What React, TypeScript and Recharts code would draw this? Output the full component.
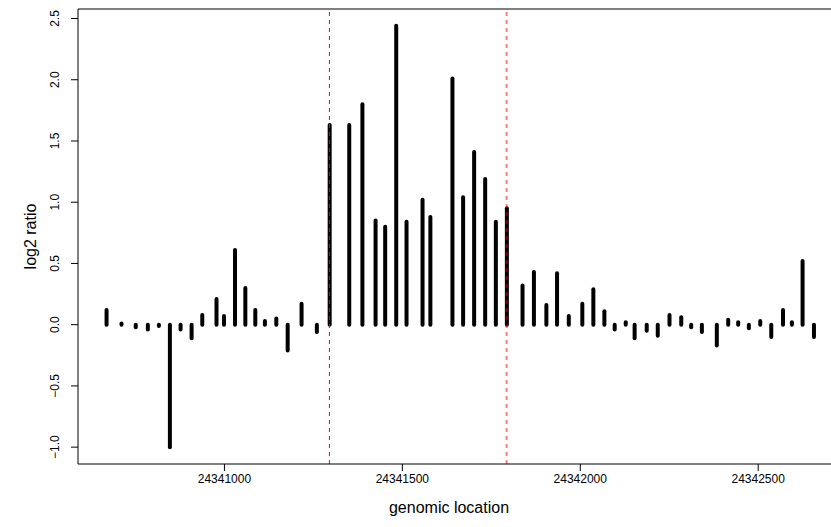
import React from 'react';
import { ComposedChart, Bar, XAxis, YAxis, ReferenceLine, Label } from 'recharts';

// probe positions (bp) and their log2 ratios
const positions = [
  24340668, 24340710, 24340750, 24340784, 24340815, 24340846, 24340876, 24340907,
  24340937, 24340977, 24340998, 24341029, 24341058, 24341086, 24341113, 24341145,
  24341177, 24341216, 24341259, 24341295, 24341350, 24341387, 24341424, 24341451,
  24341482, 24341511, 24341556, 24341578, 24341640, 24341670, 24341701, 24341732,
  24341762, 24341793, 24341837, 24341869, 24341904, 24341934, 24341967, 24342005,
  24342036, 24342067, 24342096, 24342127, 24342152, 24342186, 24342217, 24342250,
  24342283, 24342311, 24342341, 24342383, 24342415, 24342443, 24342473, 24342505,
  24342536, 24342569, 24342594, 24342624, 24342656,
];
const log2Ratios = [
  0.12, 0.01, -0.02, -0.04, -0.01, -1.0, -0.04, -0.11,
  0.08, 0.21, 0.07, 0.61, 0.3, 0.12, 0.03, 0.05,
  -0.21, 0.17, -0.06, 1.63, 1.63, 1.8, 0.85, 0.8,
  2.44, 0.84, 1.02, 0.88, 2.01, 1.04, 1.41, 1.19,
  0.84, 0.95, 0.32, 0.43, 0.16, 0.42, 0.07, 0.17,
  0.29, 0.11, -0.04, 0.02, -0.11, -0.05, -0.09, 0.08,
  0.06, -0.02, -0.06, -0.17, 0.04, 0.02, -0.03, 0.03,
  -0.1, 0.12, 0.02, 0.52, -0.1,
];
const xTicks = [24341000, 24341500, 24342000, 24342500];
const yTicks = [-1, -0.5, 0, 0.5, 1, 1.5, 2, 2.5];
const regionStart = 24341295;
const regionEnd = 24341793;

const data = positions.map((pos, i) => ({ pos, ratio: log2Ratios[i] }));

// R pads the data range by 4% on each side
const pad = (lo: number, hi: number) => {
  const d = (hi - lo) * 0.04;
  return [lo - d, hi + d];
};
const xDomain = pad(Math.min(...positions), Math.max(...positions));
const yDomain = pad(Math.min(...log2Ratios), Math.max(...log2Ratios));

const FONT = '"Liberation Sans", Arial, Helvetica, sans-serif';

const Spike = (props: any) => {
  const { x, y, width, height } = props;
  const cx = x + width / 2;
  return (
    <line x1={cx} x2={cx} y1={y} y2={y + height} stroke="#000" strokeWidth={4} strokeLinecap="round" />
  );
};

const XTick = ({ x, y, payload }: any) => (
  <text x={x} y={y} dy="0.71em" textAnchor="middle" fontSize={12} fontFamily={FONT} fill="#000">
    {payload.value}
  </text>
);

const YTick = ({ x, y, payload }: any) => (
  <text
    x={x}
    y={y}
    transform={`rotate(-90, ${x}, ${y})`}
    textAnchor="middle"
    fontSize={12}
    fontFamily={FONT}
    fill="#000"
  >
    {payload.value.toFixed(1).replace('-', '\u2212')}
  </text>
);

const App = () => {
  return (
    <div style={{ position: 'absolute', left: 0, top: 0, width: 831, height: 527, overflow: 'hidden', background: '#fff' }}>
      <ComposedChart width={850} height={527} data={data} margin={{ top: 9, right: 8, bottom: 0, left: 0 }}>
        <XAxis
          dataKey="pos"
          type="number"
          domain={xDomain}
          allowDataOverflow
          ticks={xTicks}
          interval={0}
          height={63}
          tickSize={7}
          tickMargin={3}
          tick={<XTick />}
          axisLine={{ stroke: '#000' }}
          tickLine={{ stroke: '#000' }}
        >
          <Label
            content={({ viewBox }: any) => (
              <text
                x={viewBox.x + 449 - 78}
                y={513}
                textAnchor="middle"
                fontSize={16}
                fontFamily={FONT}
                fill="#000"
              >
                genomic location
              </text>
            )}
          />
        </XAxis>
        <YAxis
          type="number"
          domain={yDomain}
          allowDataOverflow
          ticks={yTicks}
          interval={0}
          width={78}
          tickSize={7}
          tickMargin={12}
          tick={<YTick />}
          axisLine={{ stroke: '#000' }}
          tickLine={{ stroke: '#000' }}
        >
          <Label
            content={({ viewBox }: any) => {
              const cy = viewBox.y + viewBox.height / 2;
              return (
                <text
                  x={36}
                  y={cy}
                  transform={`rotate(-90, 36, ${cy})`}
                  textAnchor="middle"
                  fontSize={16}
                  fontFamily={FONT}
                  fill="#000"
                >
                  log2 ratio
                </text>
              );
            }}
          />
        </YAxis>
        <Bar dataKey="ratio" barSize={4} shape={<Spike />} isAnimationActive={false} />
        <ReferenceLine y={yDomain[1]} stroke="#000" />
        <ReferenceLine x={regionStart} stroke="#ff0000" strokeWidth={1} strokeDasharray="4 4" />
        <ReferenceLine x={regionEnd} stroke="#ff0000" strokeOpacity={0.5} strokeWidth={2} strokeDasharray="4 4" />
      </ComposedChart>
    </div>
  );
};

export default App;
